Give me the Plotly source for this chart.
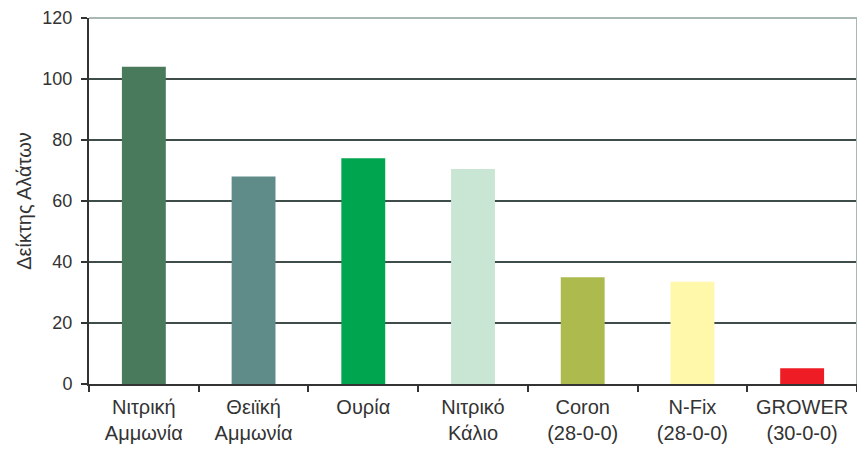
import plotly.graph_objects as go

categories = ["Νιτρική<br>Αμμωνία", "Θειϊκή<br>Αμμωνία", "Ουρία", "Νιτρικό<br>Κάλιο",
              "Coron<br>(28-0-0)", "N-Fix<br>(28-0-0)", "GROWER<br>(30-0-0)"]
values = [104, 68, 74, 70.5, 35, 33.5, 5.2]
colors = ["#497A5B", "#5F8C89", "#00A550", "#C9E6D4", "#ADBB4E", "#FFF8AB", "#EE1C25"]
y_ticks = [0, 20, 40, 60, 80, 100, 120]

fig = go.Figure()
fig.add_trace(go.Bar(x=categories, y=values, marker=dict(color=colors, line=dict(width=0)),
                     width=0.4))

font_family = "Liberation Sans, Arial, sans-serif"
fig.update_layout(
    width=865, height=454,
    margin=dict(l=81, r=16, t=10, b=78),
    paper_bgcolor="white", plot_bgcolor="white",
    showlegend=False,
    font=dict(family=font_family, color="#333333"),
    xaxis=dict(
        type="category", showgrid=False, showline=True, linecolor="#333333", linewidth=2,
        ticks="outside", tickson="boundaries", ticklen=6, tickcolor="#333333", tickwidth=2,
        ticklabelstandoff=4, automargin=False,
        tickfont=dict(size=20, color="#333333", family=font_family),
        range=[-0.5, 6.5],
    ),
    yaxis=dict(
        range=[0, 120], tickvals=y_ticks, showgrid=True, gridcolor="#3E4C4A", gridwidth=1.5,
        showline=True, linecolor="#333333", linewidth=2, zeroline=False,
        ticks="outside", ticklen=6, tickcolor="#333333", tickwidth=2,
        ticklabelstandoff=5, automargin=False,
        tickfont=dict(size=18, color="#333333", family=font_family),
        title=dict(text="Δείκτης Αλάτων", font=dict(size=20, color="#333333", family=font_family),
                   standoff=5),
    ),
)

# light plot-area border on top and right
fig.add_shape(type="line", xref="paper", yref="paper", x0=0, x1=1, y0=1, y1=1,
              line=dict(color="#A9B8B1", width=2), layer="above")
fig.add_shape(type="line", xref="paper", yref="paper", x0=1, x1=1, y0=0, y1=1,
              line=dict(color="#A9B8B1", width=2), layer="above")

fig.write_html("out.html")
